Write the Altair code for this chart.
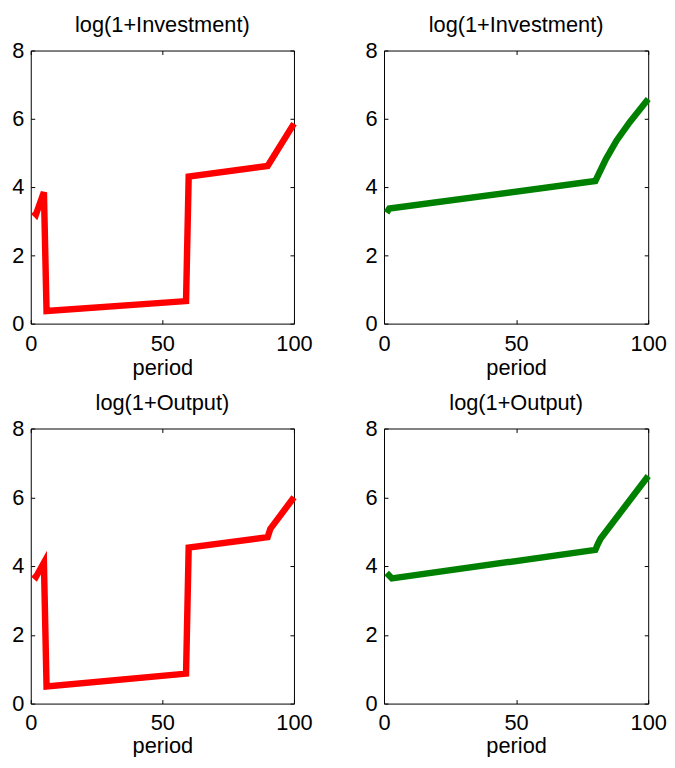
import altair as alt
import pandas as pd

# ---- data ----
inv_a_period = [1, 2, 5, 6, 59, 60, 90, 100]
inv_a_value = [3.28, 3.2, 3.85, 0.37, 0.66, 4.31, 4.62, 5.86]

inv_b_period = [1, 2, 80, 84, 88, 93, 100]
inv_b_value = [3.25, 3.37, 4.18, 4.82, 5.36, 5.9, 6.58]

out_a_period = [1, 2, 5, 6, 59, 60, 90, 91, 100]
out_a_value = [3.76, 3.69, 4.1, 0.5, 0.87, 4.54, 4.84, 5.08, 6.0]

out_b_period = [1, 3, 80, 81, 82, 100]
out_b_value = [3.8, 3.64, 4.47, 4.65, 4.8, 6.62]

x_ticks = [0, 50, 100]
y_ticks = [0, 2, 4, 6, 8]

RED = "#ff0000"
GREEN = "#008000"
FONT = "Liberation Sans"


def panel(periods, values, color, title, w, h, lab_pad, title_pad):
    df = pd.DataFrame({"period": periods, "value": values})
    xs = alt.Scale(domain=[0, 100], nice=False, zero=False)
    ys = alt.Scale(domain=[0, 8], nice=False)
    base = alt.Chart(df)
    line = base.mark_line(color=color, strokeWidth=6.5, strokeCap="butt").encode(
        x=alt.X("period:Q", scale=xs,
                axis=alt.Axis(orient="bottom", values=x_ticks, offset=-4, tickSize=4,
                              domain=False, grid=False, labelPadding=lab_pad,
                              labelFlush=False, labelOverlap=False, title="period",
                              titlePadding=title_pad)),
        y=alt.Y("value:Q", scale=ys,
                axis=alt.Axis(orient="left", values=y_ticks, offset=-4, tickSize=4,
                              domain=False, grid=False, labelPadding=7, labelOverlap=False,
                              title=None)),
    )
    frame_ticks = base.mark_line(strokeOpacity=0).encode(
        x=alt.X("period:Q", scale=xs,
                axis=alt.Axis(orient="top", values=x_ticks, offset=-4, tickSize=4,
                              domain=False, grid=False, labels=False, title=None)),
        y=alt.Y("value:Q", scale=ys,
                axis=alt.Axis(orient="right", values=y_ticks, offset=-4, tickSize=4,
                              domain=False, grid=False, labels=False, title=None)),
    )
    return alt.layer(line, frame_ticks).resolve_axis(
        x="independent", y="independent"
    ).properties(width=w, height=h, title=title)


p1 = panel(inv_a_period, inv_a_value, RED, "log(1+Investment)", 266, 276, 10, 3)
p2 = panel(inv_b_period, inv_b_value, GREEN, "log(1+Investment)", 267, 276, 10, 3)
p3 = panel(out_a_period, out_a_value, RED, "log(1+Output)", 266, 278, 9, 2)
p4 = panel(out_b_period, out_b_value, GREEN, "log(1+Output)", 267, 278, 9, 2)

chart = alt.concat(
    p1, p2, p3, p4, columns=2, spacing={"row": 106, "column": 91}, bounds="flush"
).configure_view(
    stroke="black", strokeWidth=1
).configure_axis(
    labelFont=FONT, titleFont=FONT, labelFontSize=22, titleFontSize=22,
    titleFontWeight="normal", labelColor="black", titleColor="black",
    tickColor="black", tickWidth=1,
).configure_title(
    font=FONT, fontSize=22, fontWeight="normal", color="black",
    anchor="middle", offset=3, baseline="alphabetic",
).properties(
    background="white",
    padding={"left": 3, "top": 1, "right": 0, "bottom": -4},
)

chart.save("out.html", embed_options={"renderer": "svg", "actions": False})
